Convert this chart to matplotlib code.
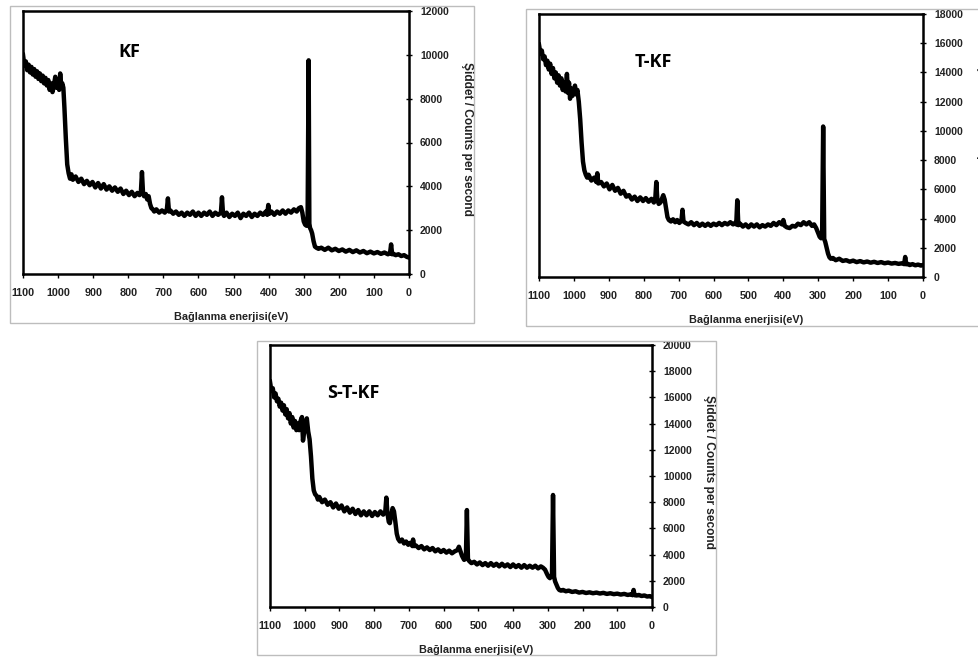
import matplotlib
matplotlib.use('Agg')
import matplotlib.pyplot as plt
from matplotlib.patches import Rectangle

plt.rcParams['font.family'] = ['Liberation Sans', 'DejaVu Sans']
plt.rcParams['font.weight'] = 'bold'

# ---- data ----
kf_energy = [1100, 1096, 1092, 1088, 1084, 1080, 1076, 1072, 1068, 1064,
             1060, 1056, 1052, 1048, 1044, 1040, 1036, 1032, 1028, 1024,
             1020, 1016, 1012, 1008, 1004, 1000, 997, 994, 991, 988,
             985, 982, 978, 974, 970, 966, 962, 958, 950, 942,
             934, 926, 918, 910, 902, 894, 886, 878, 870, 862,
             854, 846, 838, 830, 822, 814, 806, 798, 790, 782,
             774, 768, 764, 761, 758, 755, 750, 746, 742, 738,
             734, 730, 726, 720, 712, 704, 696, 690, 687, 684,
             680, 672, 664, 656, 648, 640, 632, 624, 616, 608,
             600, 592, 584, 576, 568, 560, 552, 544, 536, 533,
             530, 527, 520, 512, 504, 496, 488, 480, 472, 464,
             456, 448, 440, 432, 424, 416, 408, 404, 401, 398,
             392, 384, 376, 368, 360, 352, 344, 336, 328, 320,
             314, 308, 304, 300, 296, 292, 289, 286, 284, 282,
             279, 276, 272, 268, 264, 258, 250, 240, 230, 220,
             210, 200, 190, 180, 170, 160, 150, 140, 130, 120,
             110, 100, 90, 80, 70, 60, 54, 51, 48, 44,
             38, 30, 22, 14, 6, 0]
kf_counts = [10000, 9500, 9700, 9300, 9550, 9200, 9450, 9100, 9350, 9000,
             9250, 8900, 9150, 8800, 9050, 8700, 8950, 8600, 8850, 8400,
             8700, 8300, 8600, 9000, 8500, 8750, 8400, 9150, 8600, 8700,
             8500, 7600, 6200, 5000, 4600, 4350, 4550, 4300, 4450, 4200,
             4350, 4100, 4250, 4050, 4200, 3950, 4150, 3900, 4100, 3850,
             4000, 3800, 3950, 3750, 3900, 3650, 3800, 3600, 3750, 3550,
             3700, 3600, 3750, 4650, 3700, 3550, 3650, 3400, 3550, 3200,
             3000, 2950, 2850, 2950, 2800, 2900, 2800, 2950, 3450, 2850,
             2900, 2750, 2850, 2700, 2800, 2650, 2800, 2700, 2850, 2650,
             2800, 2650, 2800, 2700, 2850, 2650, 2800, 2700, 2800, 3500,
             2750, 2650, 2800, 2600, 2750, 2650, 2800, 2550, 2750, 2650,
             2800, 2600, 2750, 2650, 2800, 2700, 2850, 2700, 3150, 2750,
             2850, 2700, 2850, 2750, 2900, 2750, 2900, 2800, 2950, 2850,
             3000, 3050, 2800, 2400, 2250, 2200, 2350, 9750, 2300, 2100,
             2000, 1850, 1500, 1250, 1200, 1150, 1200, 1100, 1200, 1080,
             1150, 1050, 1120, 1020, 1100, 1000, 1080, 980, 1050, 950,
             1020, 940, 1000, 920, 980, 900, 950, 1350, 900, 920,
             860, 900, 820, 860, 780, 750]

tkf_energy = [1100, 1096, 1092, 1088, 1084, 1080, 1076, 1072, 1068, 1064,
              1060, 1056, 1052, 1048, 1044, 1040, 1036, 1032, 1028, 1024,
              1020, 1017, 1014, 1011, 1008, 1004, 1000, 997, 994, 990,
              986, 982, 978, 974, 970, 966, 962, 958, 950, 942,
              936, 933, 930, 922, 914, 906, 898, 890, 882, 874,
              866, 858, 850, 842, 834, 826, 818, 810, 802, 794,
              786, 778, 771, 767, 764, 761, 757, 752, 748, 744,
              740, 736, 732, 728, 722, 716, 710, 704, 698, 692,
              689, 686, 680, 672, 664, 656, 648, 640, 632, 624,
              616, 608, 600, 592, 584, 576, 568, 560, 552, 544,
              538, 535, 532, 529, 524, 516, 508, 500, 492, 484,
              476, 468, 460, 452, 444, 436, 428, 420, 412, 404,
              400, 396, 390, 382, 374, 366, 358, 350, 342, 334,
              326, 318, 312, 306, 300, 296, 292, 289, 286, 283,
              280, 276, 272, 268, 264, 258, 250, 240, 230, 220,
              210, 200, 190, 180, 170, 160, 150, 140, 130, 120,
              110, 100, 90, 80, 70, 60, 54, 51, 48, 44,
              38, 30, 22, 14, 6, 0]
tkf_counts = [15900, 15300, 15500, 14900, 15100, 14500, 14800, 14200, 14600, 13900,
              14300, 13600, 14000, 13300, 13800, 13100, 13600, 12800, 13300, 12700,
              13900, 12600, 13300, 12200, 12900, 12400, 12700, 13100, 12500, 12800,
              12000, 10800, 9200, 7900, 7300, 7000, 6800, 7000, 6600, 6800,
              6500, 7100, 6400, 6500, 6200, 6400, 6000, 6300, 5900, 6100,
              5700, 5900, 5500, 5600, 5300, 5500, 5200, 5450, 5200, 5400,
              5150, 5350, 5100, 5300, 6500, 5300, 5000, 5100, 5350, 5600,
              5300, 4700, 4100, 3900, 3800, 3950, 3750, 3900, 3700, 3850,
              4600, 3800, 3700, 3600, 3750, 3550, 3700, 3500, 3650, 3500,
              3650, 3500, 3650, 3550, 3700, 3550, 3700, 3600, 3750, 3600,
              3700, 3600, 5250, 3550, 3650, 3450, 3600, 3400, 3600, 3450,
              3600, 3400, 3550, 3450, 3600, 3500, 3700, 3550, 3750, 3600,
              3900, 3500, 3400, 3350, 3500, 3450, 3650, 3550, 3750, 3600,
              3750, 3500, 3600, 3350, 3000, 2750, 2650, 2800, 10300, 2600,
              2400, 2000, 1600, 1350, 1250, 1300, 1150, 1250, 1100, 1150,
              1050, 1120, 1020, 1090, 1000, 1060, 980, 1040, 960, 1020,
              940, 990, 920, 960, 900, 940, 880, 1370, 870, 900,
              820, 880, 800, 850, 780, 820]

stkf_energy = [1100, 1096, 1092, 1088, 1084, 1080, 1076, 1072, 1068, 1064,
               1060, 1056, 1052, 1048, 1044, 1040, 1036, 1032, 1028, 1024,
               1020, 1016, 1012, 1008, 1005, 1002, 998, 994, 990, 986,
               982, 978, 974, 970, 966, 962, 958, 950, 942, 934,
               926, 918, 910, 902, 894, 886, 878, 870, 862, 854,
               846, 838, 830, 822, 814, 806, 798, 790, 782, 774,
               768, 765, 762, 758, 755, 751, 747, 743, 739, 735,
               731, 726, 720, 714, 708, 702, 696, 690, 688, 685,
               680, 672, 664, 656, 648, 640, 632, 624, 616, 608,
               600, 592, 584, 576, 568, 560, 556, 552, 547, 541,
               536, 533, 530, 526, 520, 512, 504, 496, 488, 480,
               472, 464, 456, 448, 440, 432, 424, 416, 408, 400,
               392, 384, 376, 368, 360, 352, 344, 336, 328, 320,
               314, 308, 302, 298, 294, 291, 288, 285, 282, 279,
               275, 271, 267, 262, 256, 248, 240, 230, 220, 210,
               200, 190, 180, 170, 160, 150, 140, 130, 120, 110,
               100, 90, 80, 70, 60, 56, 53, 50, 44, 38,
               30, 22, 14, 6, 0]
stkf_counts = [17200, 16500, 16700, 16000, 16300, 15700, 15900, 15300, 15600, 15000,
               15400, 14700, 15100, 14400, 14800, 14000, 14500, 13700, 14200, 13500,
               14000, 13500, 14200, 14500, 12700, 13300, 13600, 14400, 13400, 12800,
               11500, 9800, 8900, 8600, 8500, 8200, 8400, 8000, 8200, 7800,
               8000, 7600, 7900, 7500, 7750, 7300, 7600, 7200, 7500, 7100,
               7400, 7000, 7300, 7000, 7300, 6950, 7250, 7000, 7300, 7050,
               7300, 8350, 7200, 6500, 6400, 7000, 7550, 7300, 6500, 5600,
               5200, 5000, 5150, 4850, 5000, 4750, 4900, 4650, 5150, 4650,
               4700, 4500, 4650, 4400, 4550, 4350, 4500, 4250, 4400, 4200,
               4350, 4150, 4300, 4100, 4250, 4350, 4600, 4300, 3900, 3600,
               3700, 7400, 3650, 3500, 3350, 3450, 3250, 3400, 3200, 3350,
               3150, 3350, 3150, 3300, 3100, 3300, 3100, 3250, 3050, 3250,
               3050, 3200, 3000, 3200, 3000, 3150, 3000, 3150, 2950, 3100,
               3000, 2850, 2500, 2300, 2200, 2350, 2400, 8550, 2300, 1950,
               1700, 1450, 1300, 1250, 1300, 1200, 1250, 1150, 1200, 1100,
               1150, 1070, 1120, 1050, 1100, 1030, 1080, 1000, 1050, 980,
               1020, 950, 1000, 920, 970, 900, 1300, 900, 880, 920,
               840, 880, 800, 830, 760]

x_ticks = list(range(0, 1101, 100))
kf_yticks = list(range(0, 12001, 2000))
tkf_yticks = list(range(0, 18001, 2000))
stkf_yticks = list(range(0, 20001, 2000))

titles = ['KF', 'T-KF', 'S-T-KF']
xlabel = 'Bağlanma enerjisi(eV)'
ylabel = 'Şiddet / Counts per second'

W, H = 979, 657
fig = plt.figure(figsize=(W / 100, H / 100), dpi=100)
fig.patch.set_facecolor('white')


def fx(x):
    return x / W


def fy(y):
    return 1 - y / H


def panel(box, frame, energy, counts, yticks, title, title_xy, ylab_x):
    l, t, r, b = box
    # grey frame around the whole panel
    fl, ft, fr, fb = frame
    fig.patches.append(Rectangle((fx(fl), fy(fb)), (fr - fl) / W, (fb - ft) / H,
                                 transform=fig.transFigure, fill=False,
                                 edgecolor='#bdbdbd', lw=1.0))
    ax = fig.add_axes([fx(l), fy(b), (r - l) / W, (b - t) / H])
    ax.plot(energy, counts, color='black', lw=3.2)
    ax.set_xlim(1100, 0)
    ax.set_ylim(yticks[0], yticks[-1])
    ax.set_xticks(x_ticks)
    ax.set_yticks(yticks)
    ax.yaxis.tick_right()
    for s in ax.spines.values():
        s.set_linewidth(1.8)
    ax.tick_params(axis='y', direction='inout', length=4, width=1,
                   pad=6, labelsize=7.5, labelcolor='#222222')
    ax.tick_params(axis='x', direction='out', length=3, width=1,
                   pad=7, labelsize=7.8, labelcolor='#222222')
    fig.text(fx(title_xy[0]), fy(title_xy[1]), title, family='Open Sans',
             fontweight='bold', fontsize=13, ha='center', va='center')
    fig.text(fx((l + r) / 2 + 15), fy(b + 43), xlabel, fontsize=7.8,
             ha='center', va='center', color='#222222')
    # in the T-KF panel this label runs past the right edge, as in the original
    fig.text(fx(ylab_x), fy((t + b) / 2 - 4), ylabel, fontsize=8.6,
             rotation=270, ha='center', va='center', color='#222222')
    return ax


panel((23, 11, 409, 274), (10, 6, 474, 323), kf_energy, kf_counts,
      kf_yticks, titles[0], (129, 52), 467)
panel((539, 14, 923, 277), (526, 9, 995, 326), tkf_energy, tkf_counts,
      tkf_yticks, titles[1], (653, 62), 982)
panel((270, 345, 652, 607), (257, 341, 716, 655), stkf_energy, stkf_counts,
      stkf_yticks, titles[2], (353, 393), 709)

fig.savefig('out.png', dpi=100, facecolor='white')
